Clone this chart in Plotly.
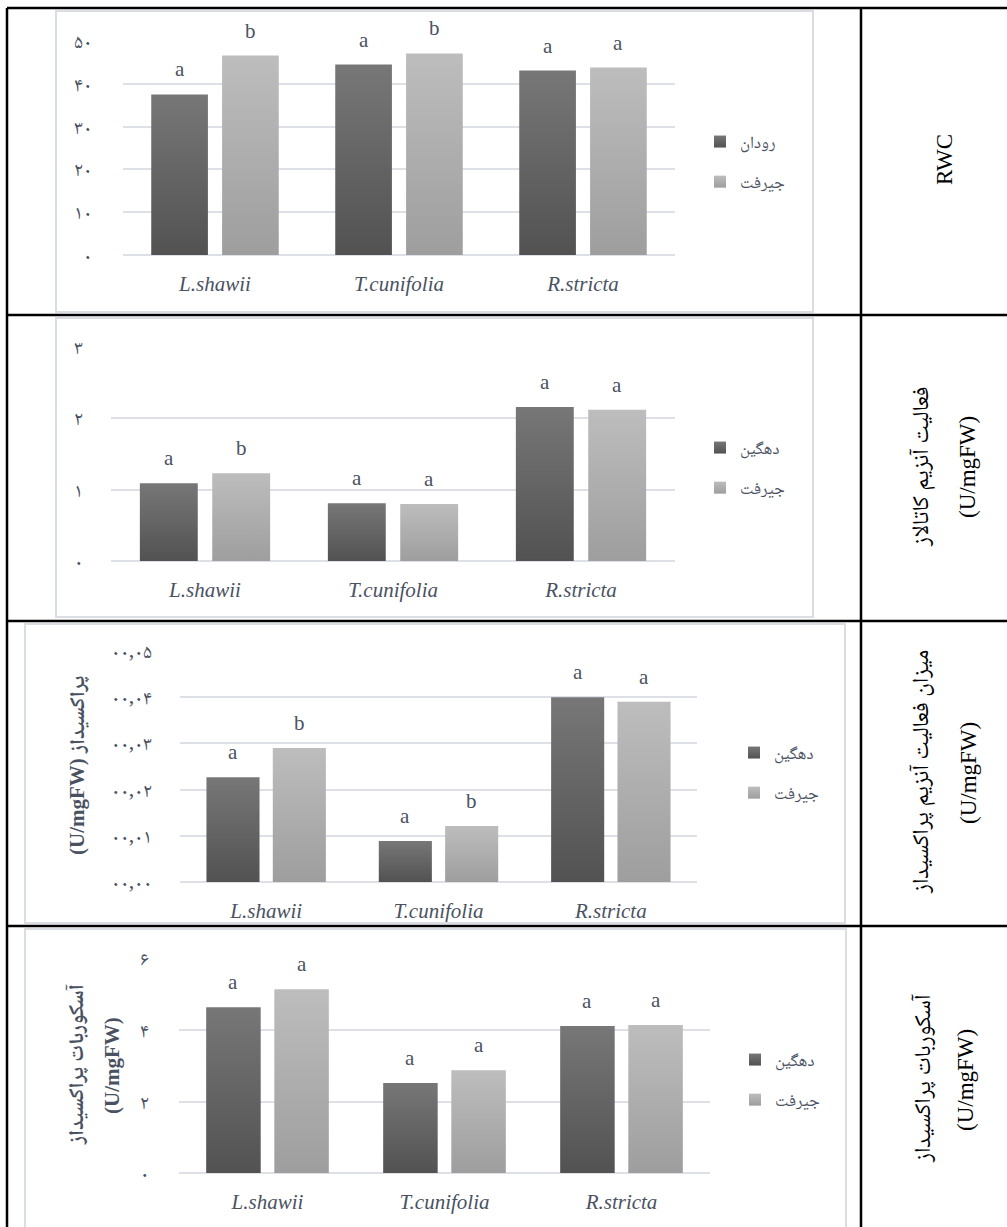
import plotly.graph_objects as go

W, H = 1007, 1227


def fx(x):
    return x / W


def fy(y):
    return 1 - y / H


# ---------------- data ----------------
species = ["L.shawii", "T.cunifolia", "R.stricta"]

rwc_rodan = [37.5, 44.5, 43.1]
rwc_jiroft = [46.6, 47.1, 43.8]
rwc_let_rodan = ["a", "a", "a"]
rwc_let_jiroft = ["b", "b", "a"]
rwc_tickvals = [0, 10, 20, 30, 40, 50]
rwc_ticktext = ["۰", "۱۰", "۲۰", "۳۰", "۴۰", "۵۰"]

cat_dehgin = [1.09, 0.81, 2.16]
cat_jiroft = [1.23, 0.80, 2.12]
cat_let_dehgin = ["a", "a", "a"]
cat_let_jiroft = ["b", "a", "a"]
cat_tickvals = [0, 1, 2, 3]
cat_ticktext = ["۰", "۱", "۲", "۳"]

pod_dehgin = [0.0227, 0.0089, 0.040]
pod_jiroft = [0.029, 0.0121, 0.039]
pod_let_dehgin = ["a", "a", "a"]
pod_let_jiroft = ["b", "b", "a"]
pod_tickvals = [0, 0.01, 0.02, 0.03, 0.04, 0.05]
pod_ticktext = ["۰۰,۰۰", "۰۰,۰۱", "۰۰,۰۲", "۰۰,۰۳", "۰۰,۰۴", "۰۰,۰۵"]

apx_dehgin = [4.65, 2.52, 4.12]
apx_jiroft = [5.15, 2.88, 4.15]
apx_let_dehgin = ["a", "a", "a"]
apx_let_jiroft = ["a", "a", "a"]
apx_tickvals = [0, 2, 4, 6]
apx_ticktext = ["۰", "۲", "۴", "۶"]

name_rodan = "رودان"
name_dehgin = "دهگین"
name_jiroft = "جیرفت"

# ---------------- styling ----------------
DARK = "#656565"
LIGHT = "#adadad"
GRID = "#dde0e6"
TXT = "#4a5262"
SERIF = "Liberation Serif, Noto Naskh Arabic, Noto Sans Arabic, DejaVu Sans, serif"
ARAB = "Noto Naskh Arabic, Noto Sans Arabic, DejaVu Sans, sans-serif"
BARGAP = 0.23
BARGROUPGAP = 0.2

panels = [
    dict(a=rwc_rodan, b=rwc_jiroft, la=rwc_let_rodan, lb=rwc_let_jiroft,
         na=name_rodan, nb=name_jiroft, tv=rwc_tickvals, tt=rwc_ticktext,
         rng=[0, 50], xd=(123, 675), yd=(255, 41), so=30, leg=(700, 162)),
    dict(a=cat_dehgin, b=cat_jiroft, la=cat_let_dehgin, lb=cat_let_jiroft,
         na=name_dehgin, nb=name_jiroft, tv=cat_tickvals, tt=cat_ticktext,
         rng=[0, 3], xd=(111, 675), yd=(561, 347), so=27, leg=(700, 468)),
    dict(a=pod_dehgin, b=pod_jiroft, la=pod_let_dehgin, lb=pod_let_jiroft,
         na=name_dehgin, nb=name_jiroft, tv=pod_tickvals, tt=pod_ticktext,
         rng=[0, 0.05], xd=(180, 697), yd=(882, 651), so=27, leg=(734, 773)),
    dict(a=apx_dehgin, b=apx_jiroft, la=apx_let_dehgin, lb=apx_let_jiroft,
         na=name_dehgin, nb=name_jiroft, tv=apx_tickvals, tt=apx_ticktext,
         rng=[0, 6], xd=(179, 710), yd=(1173, 959), so=29, leg=(735, 1080)),
]

fig = go.Figure()
annotations = []
layout_axes = {}
offset = (1 - BARGAP) / 4

for i, p in enumerate(panels, start=1):
    sx = "" if i == 1 else str(i)
    leg = "legend" if i == 1 else f"legend{i}"
    for vals, nm, col, grp in ((p["a"], p["na"], DARK, "a"), (p["b"], p["nb"], LIGHT, "b")):
        fig.add_trace(go.Bar(
            x=species, y=vals, name=nm, marker=dict(color=col, line=dict(width=0)),
            xaxis="x" + sx, yaxis="y" + sx, legend=leg, legendgroup=f"p{i}{grp}",
            hoverinfo="skip",
        ))
    for k in range(len(species)):
        for vals, lets, sgn in ((p["a"], p["la"], -1), (p["b"], p["lb"], 1)):
            annotations.append(dict(
                x=k + sgn * offset, y=vals[k], xref="x" + sx, yref="y" + sx,
                text=lets[k], showarrow=False, yanchor="bottom", yshift=11,
                font=dict(family="Liberation Serif", size=21, color=TXT),
            ))
    layout_axes["xaxis" + sx] = dict(
        domain=[fx(p["xd"][0]), fx(p["xd"][1])], anchor="y" + sx,
        type="category", showgrid=False, zeroline=False, showline=False,
        ticks="", ticklabelstandoff=14, automargin=False,
        tickfont=dict(family="Liberation Serif", size=21, color=TXT, style="italic"),
    )
    layout_axes["yaxis" + sx] = dict(
        domain=[fy(p["yd"][0]), fy(p["yd"][1])], anchor="x" + sx,
        range=p["rng"], tickmode="array", tickvals=p["tv"], ticktext=p["tt"],
        showgrid=True, gridcolor=GRID, gridwidth=2,
        zeroline=True, zerolinecolor=GRID, zerolinewidth=2,
        showline=False, ticks="", ticklabelstandoff=p["so"], automargin=False,
        tickfont=dict(family=ARAB, size=20, color=TXT),
    )
    layout_axes[leg] = dict(
        x=fx(p["leg"][0]), y=fy(p["leg"][1]), xanchor="left", yanchor="middle",
        bgcolor="rgba(0,0,0,0)", borderwidth=0, tracegroupgap=15,
        traceorder="grouped",
        font=dict(family=ARAB, size=17, color=TXT),
    )

# right-column labels
right_labels = [
    ("RWC", 945, 160),
    ("فعالیت آنزیم کاتالاز", 922, 467),
    ("(U/mgFW)", 967, 467),
    ("میزان فعالیت آنزیم پراکسیداز", 922, 772),
    ("(U/mgFW)", 968, 773),
    ("آسکوربات پراکسیداز", 923, 1078),
    ("(U/mgFW)", 965, 1080),
]
for txt, x, y in right_labels:
    annotations.append(dict(
        x=fx(x), y=fy(y), xref="paper", yref="paper", text=txt, textangle=-90,
        showarrow=False, xanchor="center", yanchor="middle",
        font=dict(family=SERIF, size=23, color="black"),
    ))

# left axis titles (rows 3 and 4)
left_titles = [
    ("<b>(U/mgFW) پراکسیداز</b>", 77, 766),
    ("<b>آسکوربات پراکسیداز</b>", 76, 1065),
    ("<b>(U/mgFW)</b>", 112, 1066),
]
for txt, x, y in left_titles:
    annotations.append(dict(
        x=fx(x), y=fy(y), xref="paper", yref="paper", text=txt, textangle=-90,
        showarrow=False, xanchor="center", yanchor="middle",
        font=dict(family=SERIF, size=21, color=TXT),
    ))

shapes = []
BLK = dict(color="black", width=2.5)
for y in (8, 315, 621, 926):
    shapes.append(dict(type="line", xref="paper", yref="paper",
                       x0=fx(7), x1=fx(1007), y0=fy(y), y1=fy(y), line=BLK))
for x in (7, 861):
    shapes.append(dict(type="line", xref="paper", yref="paper",
                       x0=fx(x), x1=fx(x), y0=fy(8), y1=fy(1227), line=BLK))
BOX = dict(color="#dadde3", width=2)
for x0, y0, x1, y1 in ((56, 11, 813, 312), (56, 318, 813, 617),
                       (25, 624, 845, 923), (25, 929, 846, 1232)):
    shapes.append(dict(type="rect", xref="paper", yref="paper",
                       x0=fx(x0), x1=fx(x1), y0=fy(y0), y1=fy(y1), line=BOX))

fig.update_layout(
    width=W, height=H, autosize=False,
    margin=dict(l=0, r=0, t=0, b=0, pad=0, autoexpand=False),
    paper_bgcolor="white", plot_bgcolor="white",
    barmode="group", bargap=BARGAP, bargroupgap=BARGROUPGAP,
    annotations=annotations, shapes=shapes, showlegend=True,
    **layout_axes,
)

post = """
document.body.style.margin = '0';
document.body.style.padding = '0';
document.documentElement.style.overflow = 'hidden';
var gd = document.getElementById('{plot_id}');
var ns = 'http://www.w3.org/2000/svg';
var svg = gd.querySelector('svg.main-svg');
var defs = svg.querySelector('defs');
function mk(id, c1, c2) {
  var g = document.createElementNS(ns, 'linearGradient');
  g.setAttribute('id', id);
  g.setAttribute('x1', '0'); g.setAttribute('y1', '0');
  g.setAttribute('x2', '0'); g.setAttribute('y2', '1');
  [[0, c1], [1, c2]].forEach(function (s) {
    var st = document.createElementNS(ns, 'stop');
    st.setAttribute('offset', s[0]);
    st.setAttribute('stop-color', s[1]);
    g.appendChild(st);
  });
  defs.appendChild(g);
}
mk('gDark', '#777777', '#525252');
mk('gLight', '#bdbdbd', '#9e9e9e');
gd.querySelectorAll('path').forEach(function (p) {
  var f = p.style.fill;
  if (f === 'rgb(101, 101, 101)') p.style.fill = 'url(#gDark)';
  else if (f === 'rgb(173, 173, 173)') p.style.fill = 'url(#gLight)';
});
"""

fig.write_html("out.html", post_script=post, config={"displayModeBar": False})
